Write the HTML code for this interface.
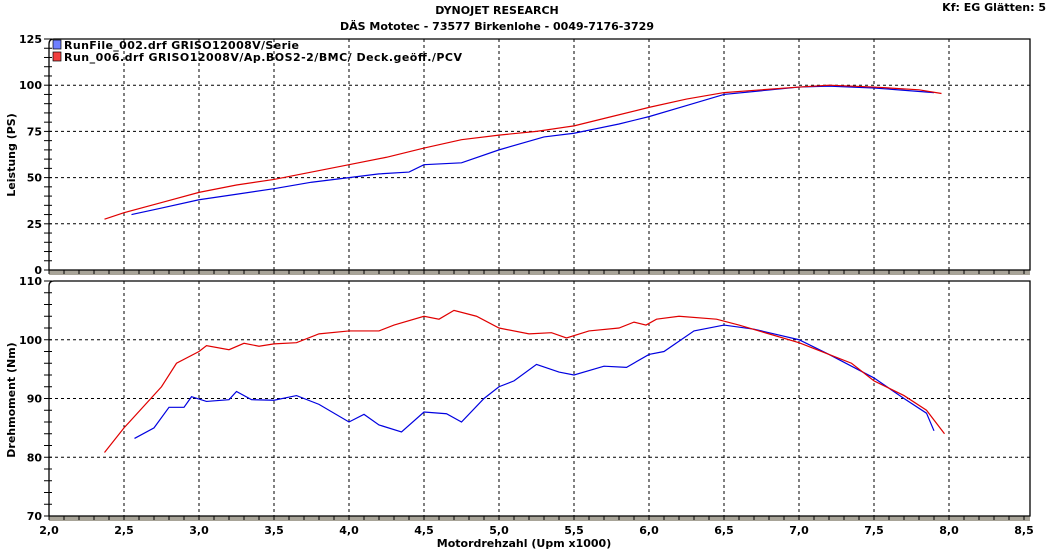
<!DOCTYPE html>
<html><head><meta charset="utf-8"><style>
body{margin:0;background:#fff;width:1055px;height:549px;overflow:hidden}
svg text{font-family:"DejaVu Sans","Liberation Sans",sans-serif;font-weight:bold;font-size:11px;fill:#000}
</style></head><body>
<svg id="s" width="1055" height="549" xmlns="http://www.w3.org/2000/svg">
<text x="497" y="14" text-anchor="middle">DYNOJET RESEARCH</text>
<text x="497" y="30" text-anchor="middle">DÄS Mototec - 73577 Birkenlohe  - 0049-7176-3729</text>
<text x="1046" y="11" text-anchor="end">Kf: EG  Glätten: 5</text>
<text transform="translate(15,155) rotate(-90)" text-anchor="middle" font-size="13.5">Leistung (PS)</text>
<text transform="translate(15,400) rotate(-90)" text-anchor="middle" font-size="13.5">Drehmoment (Nm)</text>
<text x="524" y="547" text-anchor="middle" font-size="13.5">Motordrehzahl (Upm x1000)</text>
<g id="g"></g>
<rect x="53" y="40" width="8" height="9" fill="#6f7fff" stroke="#000" stroke-width="0.7"/>
<rect x="53" y="52" width="8" height="9" fill="#f24040" stroke="#000" stroke-width="0.7"/>
<text x="64" y="49" textLength="235">RunFile_002.drf GRISO12008V/Serie</text>
<text x="64" y="61" textLength="398">Run_006.drf GRISO12008V/Ap.BOS2-2/BMC/ Deck.geöff./PCV</text>
</svg>
<script>
const g=document.getElementById('g');let h='';
const X=r=>49+(r-2)*150;
const PT=v=>270-v*(231/125), TQ=v=>516-(v-70)*(235/40);
function panel(top,bot,yf,vals,minor,lo,hi){
 h+=`<rect x="49" y="${bot}" width="981" height="5" fill="#a8a498"/>`;
 h+=`<path d="M49 ${bot} V${top+5} Q49 ${top} 54 ${top} H1030 V${bot} Z" fill="none" stroke="#000" stroke-width="1.3"/>`;
 for(let r=2.5;r<8.3;r+=0.5)h+=`<line x1="${X(r)}" y1="${top}" x2="${X(r)}" y2="${bot}" stroke="#000" stroke-dasharray="3,3"/>`;
 vals.forEach(v=>{const y=yf(v);if(y>top+2&&y<bot-2)h+=`<line x1="49" y1="${y}" x2="1030" y2="${y}" stroke="#000" stroke-dasharray="3,3"/>`;});
 for(let v=lo;v<=hi+0.01;v+=minor){const y=yf(v);h+=`<line x1="44" y1="${y}" x2="52" y2="${y}" stroke="#000"/>`;}
 vals.forEach(v=>h+=`<text x="42" y="${yf(v)+4}" text-anchor="end">${v}</text>`);
 for(let r=2;r<=8.51;r+=0.1)h+=`<line x1="${X(r)}" y1="${bot}" x2="${X(r)}" y2="${bot+4}" stroke="#000"/>`;
}
panel(39,270,PT,[125,100,75,50,25,0],5,0,125);
panel(281,516,TQ,[110,100,90,80,70],2,70,110);
for(let r=2;r<=8.51;r+=0.5)h+=`<text x="${X(r)}" y="534" text-anchor="middle">${r.toFixed(1).replace('.',',')}</text>`;
function line(d,f,c){h+=`<polyline fill="none" stroke="${c}" stroke-width="1.2" points="${d.map(p=>X(p[0])+','+f(p[1])).join(' ')}"/>`;}
line([[2.55,30],[2.75,33.5],[3,38],[3.25,41],[3.5,44],[3.75,47.5],[4,50],[4.2,52],[4.4,53],[4.5,57],[4.75,58],[5,65],[5.3,72],[5.5,74],[5.8,79],[6,83],[6.25,89],[6.5,95],[7,99],[7.2,99.5],[7.5,98.5],[7.9,96]],PT,'#0000e0');
line([[2.37,27.5],[2.5,31],[2.75,36.5],[3,42],[3.25,46],[3.5,49],[3.75,53],[4,57],[4.25,61],[4.5,66],[4.75,70.5],[5,73],[5.25,75],[5.5,78],[5.75,83],[6,88],[6.25,92.5],[6.5,96],[7,99],[7.2,100],[7.5,99],[7.8,97.5],[7.95,95.5]],PT,'#e00000');
line([[2.57,83.2],[2.7,85],[2.8,88.5],[2.9,88.5],[2.95,90.3],[3.05,89.5],[3.2,89.8],[3.25,91.2],[3.35,89.8],[3.5,89.7],[3.65,90.5],[3.8,89],[4,86],[4.1,87.3],[4.2,85.5],[4.35,84.3],[4.5,87.7],[4.65,87.4],[4.75,86],[4.9,90],[5,92],[5.1,93],[5.25,95.8],[5.4,94.5],[5.5,94],[5.7,95.5],[5.85,95.3],[6,97.5],[6.1,98],[6.3,101.5],[6.5,102.5],[6.7,101.8],[7,100],[7.2,97.5],[7.35,95.5],[7.5,93.5],[7.7,90],[7.85,87.5],[7.9,84.5]],TQ,'#0000e0');
line([[2.37,80.8],[2.5,85],[2.75,92],[2.85,96],[3,98],[3.05,99],[3.2,98.3],[3.3,99.4],[3.4,98.9],[3.5,99.3],[3.65,99.5],[3.8,101],[4,101.5],[4.2,101.5],[4.3,102.5],[4.5,104],[4.6,103.5],[4.7,105],[4.85,104],[5,102],[5.2,101],[5.35,101.2],[5.45,100.3],[5.6,101.5],[5.8,102],[5.9,103],[5.98,102.5],[6.05,103.5],[6.2,104],[6.45,103.5],[6.6,102.5],[6.8,101],[7,99.5],[7.2,97.5],[7.35,96],[7.5,93],[7.7,90.5],[7.85,88],[7.97,84]],TQ,'#e00000');
g.innerHTML=h;
</script>
</body></html>
